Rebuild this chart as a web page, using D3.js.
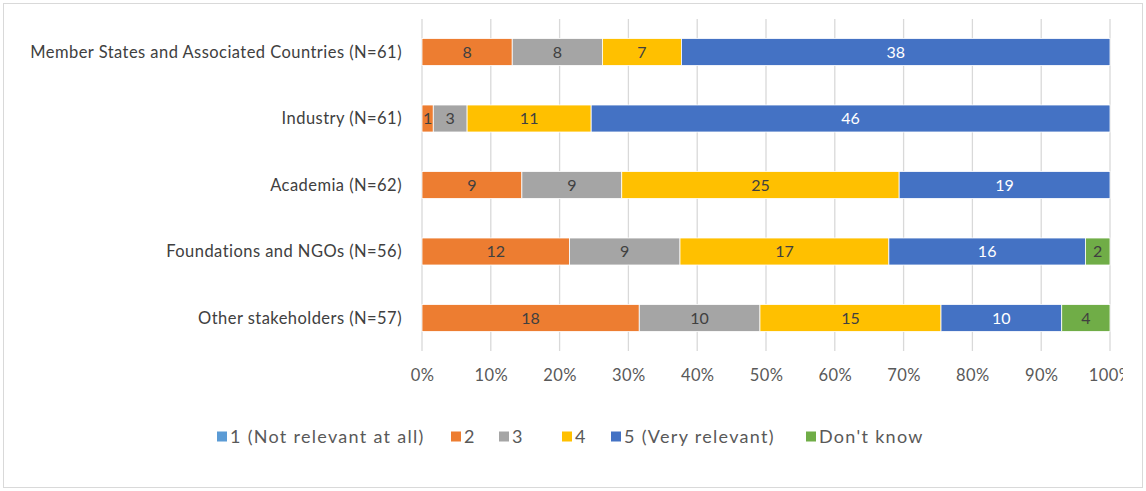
<!DOCTYPE html>
<html><head><meta charset="utf-8">
<script src="https://cdn.jsdelivr.net/npm/d3@7"></script>
<style>
body{margin:0;background:#fff;}
svg text{font-family:Lato,"Open Sans",sans-serif;}
</style></head><body>
<svg id="c" width="1146" height="491"></svg>
<script>
const categories = ["Member States and Associated Countries (N=61)","Industry (N=61)","Academia (N=62)","Foundations and NGOs (N=56)","Other stakeholders (N=57)"];
const seriesNames = ["1 (Not relevant at all)","2","3","4","5 (Very relevant)","Don't know"];
const s1 = [0,0,0,0,0];
const s2 = [8,1,9,12,18];
const s3 = [8,3,9,9,10];
const s4 = [7,11,25,17,15];
const s5 = [38,46,19,16,10];
const sDK = [0,0,0,2,4];
const tickLabels = ["0%","10%","20%","30%","40%","50%","60%","70%","80%","90%","100%"];
const colors = ["#5B9BD5","#ED7D31","#A5A5A5","#FFC000","#4472C4","#70AD47"];
const labelColors = ["#404040","#404040","#404040","#404040","#ffffff","#404040"];

const series = [s1,s2,s3,s4,s5,sDK];
const svg = d3.select("#c");
svg.append("rect").attr("x",3.5).attr("y",3.5).attr("width",1139).attr("height",484)
  .attr("fill","#fff").attr("stroke","#d9d9d9").attr("stroke-width",1);

const x = d3.scaleLinear().domain([0,1]).range([422,1110]);
const y = d3.scaleBand().domain(categories).range([18.75,351.25]).paddingInner(0.594).paddingOuter(0.297);

svg.append("clipPath").attr("id","clp").append("rect").attr("x",0).attr("y",0).attr("width",1123).attr("height",491);

// gridlines
const ticks = d3.range(0,11).map(i=>i/10);
svg.append("g").selectAll("line").data(ticks).join("line")
  .attr("x1",d=>x(d)).attr("x2",d=>x(d)).attr("y1",19).attr("y2",351)
  .attr("stroke","#d9d9d9").attr("stroke-width",1.3);

// axis labels
const xAxis = d3.axisBottom(x).tickValues(ticks).tickFormat((d,i)=>tickLabels[i]).tickSize(0).tickPadding(0);
const axOuter = svg.append("g").attr("clip-path","url(#clp)");
const ax = axOuter.append("g").attr("transform","translate(0,375.5)").call(xAxis);
ax.select(".domain").remove();
ax.selectAll("text").attr("font-size",16.5).attr("letter-spacing","0.4px").attr("fill","#595959").attr("font-family","Lato,sans-serif").attr("dy","0.36em");

// category labels
svg.append("g").selectAll("text").data(categories).join("text")
  .attr("x",402).attr("y",d=>y(d)+y.bandwidth()/2).attr("dy","0.36em")
  .attr("text-anchor","end").attr("font-size",16.5).attr("letter-spacing","0.45px").attr("fill","#404040").text(d=>d);

// bars
categories.forEach((c,ci)=>{
  const total = series.reduce((a,s)=>a+s[ci],0);
  let cum = 0;
  series.forEach((s,si)=>{
    const v = s[ci];
    if(v<=0) return;
    const x0 = x(cum/total), x1 = x((cum+v)/total);
    svg.append("rect").attr("x",x0).attr("y",y(c)).attr("width",x1-x0).attr("height",y.bandwidth())
      .attr("fill",colors[si]).attr("stroke","#fff").attr("stroke-width",0.8);
    svg.append("text").attr("x",(x0+x1)/2).attr("y",y(c)+y.bandwidth()/2).attr("dy","0.36em")
      .attr("text-anchor","middle").attr("font-size",16).attr("fill",labelColors[si]).text(v);
    cum += v;
  });
});

// legend
const legendX = [217,451,499,562,611,806];
const lg = svg.append("g");
seriesNames.forEach((n,i)=>{
  lg.append("rect").attr("x",legendX[i]).attr("y",431.5).attr("width",10).attr("height",10).attr("fill",colors[i]);
  lg.append("text").attr("x",legendX[i]+13).attr("y",436.5).attr("dy","0.36em").attr("font-size",18).attr("letter-spacing","1.3px").attr("fill","#595959").text(n);
});
</script>
</body></html>
